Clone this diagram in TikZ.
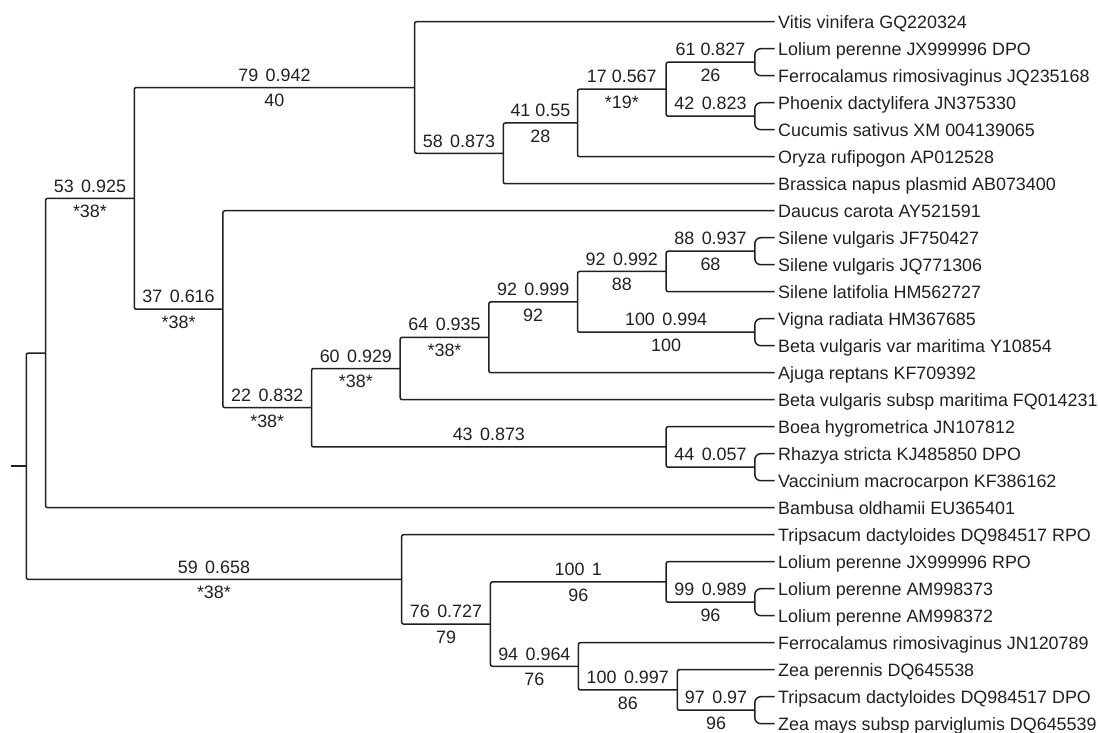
\documentclass[tikz,border=0pt]{standalone}
\usepackage{fontspec}
\setmainfont{Liberation Sans}
\usetikzlibrary{calc}
\definecolor{ink}{RGB}{35,31,32}
\newcommand\lsp{\hspace{7.5pt}}
\begin{document}
\begin{tikzpicture}[x=1pt,y=-1pt,
  font=\fontsize{17.9}{20}\selectfont, color=ink,
  leaf/.style={anchor=west, inner xsep=3.5pt, inner ysep=0pt, text height=12.9pt, text depth=0pt},
  br/.style={draw=ink, line width=1.5pt, rounded corners=2pt},
  cherry/.style={draw=ink, line width=1.5pt, rounded corners=6pt},
  toplab/.style={midway, anchor=base, inner sep=0pt, yshift=6.3pt},
  botlab/.style={midway, anchor=base, inner sep=0pt, yshift=-19.3pt}]
\useasboundingbox (0,0) rectangle (1098,732);
% leaves
\node[leaf] (l1) at (774.5,21.7) {Vitis vinifera GQ220324};
\node[leaf] (l2) at (774.5,48.7) {Lolium perenne JX999996 DPO};
\node[leaf] (l3) at (774.5,75.7) {Ferrocalamus rimosivaginus JQ235168};
\node[leaf] (l4) at (774.5,102.7) {Phoenix dactylifera JN375330};
\node[leaf] (l5) at (774.5,129.7) {Cucumis sativus XM 004139065};
\node[leaf] (l6) at (774.5,156.7) {Oryza rufipogon AP012528};
\node[leaf] (l7) at (774.5,183.7) {Brassica napus plasmid AB073400};
\node[leaf] (l8) at (774.5,210.7) {Daucus carota AY521591};
\node[leaf] (l9) at (774.5,237.7) {Silene vulgaris JF750427};
\node[leaf] (l10) at (774.5,264.7) {Silene vulgaris JQ771306};
\node[leaf] (l11) at (774.5,291.7) {Silene latifolia HM562727};
\node[leaf] (l12) at (774.5,318.7) {Vigna radiata HM367685};
\node[leaf] (l13) at (774.5,345.7) {Beta vulgaris var maritima Y10854};
\node[leaf] (l14) at (774.5,372.7) {Ajuga reptans KF709392};
\node[leaf] (l15) at (774.5,399.7) {Beta vulgaris subsp maritima FQ014231};
\node[leaf] (l16) at (774.5,426.7) {Boea hygrometrica JN107812};
\node[leaf] (l17) at (774.5,453.7) {Rhazya stricta KJ485850 DPO};
\node[leaf] (l18) at (774.5,480.7) {Vaccinium macrocarpon KF386162};
\node[leaf] (l19) at (774.5,507.7) {Bambusa oldhamii EU365401};
\node[leaf] (l20) at (774.5,534.7) {Tripsacum dactyloides DQ984517 RPO};
\node[leaf] (l21) at (774.5,561.7) {Lolium perenne JX999996 RPO};
\node[leaf] (l22) at (774.5,588.7) {Lolium perenne AM998373};
\node[leaf] (l23) at (774.5,615.7) {Lolium perenne AM998372};
\node[leaf] (l24) at (774.5,642.7) {Ferrocalamus rimosivaginus JN120789};
\node[leaf] (l25) at (774.5,669.7) {Zea perennis DQ645538};
\node[leaf] (l26) at (774.5,696.7) {Tripsacum dactyloides DQ984517 DPO};
\node[leaf] (l27) at (774.5,723.7) {Zea mays subsp parviglumis DQ645539};
% internal nodes
\coordinate (G) at (754.8,62.2);
\coordinate (H) at (754.8,116.2);
\coordinate (F) at (666.15,89.2);
\coordinate (E) at (577.5,122.95);
\coordinate (D) at (503.3,153.3);
\coordinate (C) at (414.6,87.5);
\coordinate (O) at (754.8,251.2);
\coordinate (N) at (666.15,271.45);
\coordinate (P) at (754.8,332.2);
\coordinate (M) at (577.5,301.8);
\coordinate (L) at (488.85,337.25);
\coordinate (K) at (400.2,368.5);
\coordinate (R) at (754.8,467.2);
\coordinate (Q) at (666.15,446.95);
\coordinate (J) at (311.55,407.7);
\coordinate (I) at (222.9,309.2);
\coordinate (B) at (134.25,198.35);
\coordinate (A) at (45.6,353.0);
\coordinate (V) at (754.8,602.2);
\coordinate (U) at (666.15,581.95);
\coordinate (Y) at (754.8,710.2);
\coordinate (X) at (677.3,689.95);
\coordinate (W) at (578.3,666.3);
\coordinate (T) at (490.4,624.1);
\coordinate (S) at (401.6,579.4);
\coordinate (root) at (26.3,466.2);
\coordinate (stub) at (10.5,466.2);
% branches
\draw[br] (stub) -- (root);
\draw[br] (A) -| (root) |- (S);
\draw[br] (B) -| (A) |- (l19.west);
\draw[br] (C) -| (B) |- (I);
\draw[br] (l1.west) -| (C) |- (D);
\draw[br] (E) -| (D) |- (l7.west);
\draw[br] (F) -| (E) |- (l6.west);
\draw[br] (G) -| (F) |- (H);
\draw[cherry] (l2.west) -| (G) |- (l3.west);
\draw[cherry] (l4.west) -| (H) |- (l5.west);
\draw[br] (l8.west) -| (I) |- (J);
\draw[br] (K) -| (J) |- (Q);
\draw[br] (L) -| (K) |- (l15.west);
\draw[br] (M) -| (L) |- (l14.west);
\draw[br] (N) -| (M) |- (P);
\draw[br] (O) -| (N) |- (l11.west);
\draw[cherry] (l9.west) -| (O) |- (l10.west);
\draw[cherry] (l12.west) -| (P) |- (l13.west);
\draw[br] (l16.west) -| (Q) |- (R);
\draw[cherry] (l17.west) -| (R) |- (l18.west);
\draw[br] (l20.west) -| (S) |- (T);
\draw[br] (U) -| (T) |- (W);
\draw[br] (l21.west) -| (U) |- (V);
\draw[cherry] (l22.west) -| (V) |- (l23.west);
\draw[br] (l24.west) -| (W) |- (X);
\draw[br] (l25.west) -| (X) |- (Y);
\draw[cherry] (l26.west) -| (Y) |- (l27.west);
% branch labels
\path (A |- B) -- (B) node[toplab] (tB) {53\lsp0.925} node[botlab] (bB) {*38*};
\path (B |- C) -- (C) node[toplab] (tC) {79\lsp0.942} node[botlab] (bC) {40};
\path (C |- D) -- (D) node[toplab] (tD) {58\lsp0.873};
\path (D |- E) -- (E) node[toplab] (tE) {41 0.55} node[botlab] (bE) {28};
\path (E |- F) -- (F) node[toplab] (tF) {17 0.567} node[botlab] (bF) {*19*};
\path (F |- G) -- (G) node[toplab] (tG) {61 0.827} node[botlab] (bG) {26};
\path (F |- H) -- (H) node[toplab] (tH) {42\lsp0.823};
\path (B |- I) -- (I) node[toplab] (tI) {37\lsp0.616} node[botlab] (bI) {*38*};
\path (I |- J) -- (J) node[toplab] (tJ) {22\lsp0.832} node[botlab] (bJ) {*38*};
\path (J |- K) -- (K) node[toplab] (tK) {60\lsp0.929} node[botlab] (bK) {*38*};
\path (K |- L) -- (L) node[toplab] (tL) {64\lsp0.935} node[botlab] (bL) {*38*};
\path (L |- M) -- (M) node[toplab] (tM) {92\lsp0.999} node[botlab] (bM) {92};
\path (M |- N) -- (N) node[toplab] (tN) {92\lsp0.992} node[botlab] (bN) {88};
\path (N |- O) -- (O) node[toplab] (tO) {88\lsp0.937} node[botlab] (bO) {68};
\path (M |- P) -- (P) node[toplab] (tP) {100\lsp0.994} node[botlab] (bP) {100};
\path (J |- Q) -- (Q) node[toplab] (tQ) {43\lsp0.873};
\path (Q |- R) -- (R) node[toplab] (tR) {44\lsp0.057};
\path (root |- S) -- (S) node[toplab] (tS) {59\lsp0.658} node[botlab] (bS) {*38*};
\path (S |- T) -- (T) node[toplab] (tT) {76\lsp0.727} node[botlab] (bT) {79};
\path (T |- U) -- (U) node[toplab] (tU) {100\lsp1} node[botlab] (bU) {96};
\path (U |- V) -- (V) node[toplab] (tV) {99\lsp0.989} node[botlab] (bV) {96};
\path (T |- W) -- (W) node[toplab] (tW) {94\lsp0.964} node[botlab] (bW) {76};
\path (W |- X) -- (X) node[toplab] (tX) {100\lsp0.997} node[botlab] (bX) {86};
\path (X |- Y) -- (Y) node[toplab] (tY) {97\lsp0.97} node[botlab] (bY) {96};
\end{tikzpicture}
\end{document}
